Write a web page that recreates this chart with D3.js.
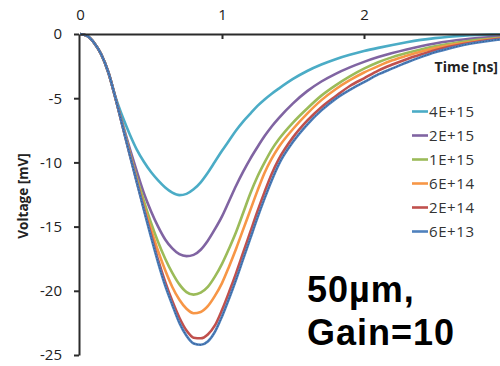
<!DOCTYPE html>
<html>
<head>
<meta charset="utf-8">
<script src="https://cdn.jsdelivr.net/npm/d3@7"></script>
<style>
  html, body { margin: 0; padding: 0; background: #fff; }
  svg { display: block; }
</style>
</head>
<body>
<svg id="chart" width="500" height="366"></svg>
<script>
// ---- data ----
const time = [0, 0.05, 0.1, 0.15, 0.2, 0.25, 0.3, 0.35, 0.4, 0.45, 0.5, 0.55, 0.6, 0.65, 0.7, 0.75, 0.8, 0.85, 0.9, 0.95, 1.0, 1.05, 1.1, 1.15, 1.2, 1.25, 1.3, 1.35, 1.4,
  1.5, 1.6, 1.7, 1.8, 1.9, 2.0, 2.1, 2.2, 2.3, 2.4, 2.5, 2.6, 2.7, 2.8, 2.9, 3.0];

const seriesNames = ["4E+15", "2E+15", "1E+15", "6E+14", "2E+14", "6E+13"];
const seriesColors = ["#4BACC6", "#8064A2", "#9BBB59", "#F79646", "#C0504D", "#4F81BD"];

const v4E15 = [0, -0.15, -0.7, -1.6, -3.0, -4.9, -6.45, -7.8, -9.0, -9.95, -10.75, -11.4, -11.95, -12.35, -12.55, -12.45, -12.1, -11.55, -10.8, -9.95, -9.1, -8.3, -7.5, -6.8, -6.2, -5.6, -5.1, -4.65, -4.25,
  -3.5, -2.88, -2.38, -1.96, -1.62, -1.33, -1.08, -0.85, -0.64, -0.46, -0.32, -0.21, -0.13, -0.08, -0.05, -0.03];
const v2E15 = [0, -0.15, -0.7, -1.6, -3.0, -5.0, -7.0, -8.9, -10.7, -12.4, -13.8, -15.0, -16.0, -16.7, -17.15, -17.3, -17.2, -16.8, -16.1, -15.2, -14.2, -13.0, -11.8, -10.7, -9.7, -8.8, -7.95, -7.2, -6.55,
  -5.4, -4.45, -3.7, -3.1, -2.6, -2.17, -1.8, -1.48, -1.2, -0.95, -0.74, -0.57, -0.43, -0.32, -0.23, -0.16];
const v1E15 = [0, -0.15, -0.7, -1.6, -3.0, -5.0, -7.1, -9.2, -11.2, -13.0, -14.7, -16.2, -17.5, -18.6, -19.5, -20.1, -20.3, -20.15, -19.7, -18.9, -17.9, -16.7, -15.4, -13.9, -12.4, -11.1, -10.0, -9.0, -8.2,
  -6.9, -5.8, -4.8, -4.0, -3.3, -2.7, -2.2, -1.8, -1.48, -1.2, -0.96, -0.76, -0.6, -0.46, -0.35, -0.26];
const v6E14 = [0, -0.15, -0.7, -1.6, -3.0, -5.0, -7.15, -9.3, -11.4, -13.4, -15.2, -16.9, -18.4, -19.7, -20.7, -21.4, -21.75, -21.65, -21.2, -20.4, -19.4, -18.1, -16.7, -15.2, -13.7, -12.2, -10.8, -9.7, -8.8,
  -7.4, -6.2, -5.15, -4.3, -3.6, -3.0, -2.5, -2.05, -1.7, -1.38, -1.1, -0.88, -0.7, -0.54, -0.41, -0.31];
const v2E14 = [0, -0.15, -0.7, -1.6, -3.0, -5.0, -7.2, -9.35, -11.5, -13.6, -15.6, -17.6, -19.3, -20.8, -22.1, -23.1, -23.65, -23.7, -23.4, -22.7, -21.5, -20.1, -18.6, -17.0, -15.4, -13.8, -12.3, -10.9, -9.75,
  -8.05, -6.75, -5.7, -4.85, -4.05, -3.45, -2.85, -2.38, -1.96, -1.6, -1.27, -1.0, -0.78, -0.6, -0.45, -0.34];
const v6E13 = [0, -0.15, -0.7, -1.6, -3.0, -5.0, -7.2, -9.4, -11.55, -13.7, -15.8, -17.8, -19.6, -21.1, -22.5, -23.5, -24.1, -24.2, -23.95, -23.2, -22.0, -20.6, -19.1, -17.5, -15.9, -14.3, -12.8, -11.4, -10.15,
  -8.4, -7.05, -5.95, -5.05, -4.35, -3.75, -3.15, -2.68, -2.22, -1.8, -1.42, -1.12, -0.86, -0.66, -0.5, -0.38];

const seriesValues = [v4E15, v2E15, v1E15, v6E14, v2E14, v6E13];

const xTicks = [0, 1, 2];
const yTicks = [0, -5, -10, -15, -20, -25];

// ---- chart ----
const svg = d3.select("#chart");
const font = "'Open Sans', 'Liberation Sans', Arial, sans-serif";

const x = d3.scaleLinear().domain([0, 3]).range([80, 506]);
const y = d3.scaleLinear().domain([0, -25]).range([34, 355]);

const line = d3.line()
  .x((d, i) => x(time[i]))
  .y(d => y(d))
  .curve(d3.curveMonotoneX);

// curves (first legend entry drawn first, last on top)
const plot = svg.append("g");
seriesValues.forEach((vals, k) => {
  plot.append("path")
    .attr("d", line(vals))
    .attr("fill", "none")
    .attr("stroke", seriesColors[k])
    .attr("stroke-width", 2.6)
    .attr("stroke-linejoin", "round");
});
// darker dotted core on the 6E+13 line
plot.append("path")
  .attr("d", line(v6E13))
  .attr("fill", "none")
  .attr("stroke", "#24406b")
  .attr("stroke-width", 1)
  .attr("stroke-dasharray", "1.5,1.5")
  .attr("opacity", 0.55);

// x axis (top)
const xAxis = svg.append("g")
  .attr("transform", `translate(0,${y(0)})`)
  .call(d3.axisTop(x).tickValues(xTicks).tickSizeInner(-5).tickSizeOuter(0).tickPadding(14).tickFormat(d3.format("d")));
xAxis.select(".domain").attr("stroke", "#2b2b2b").attr("stroke-width", 2);
xAxis.selectAll(".tick line").attr("stroke", "#2b2b2b").attr("stroke-width", 2);
xAxis.selectAll(".tick text").attr("font-family", font).attr("font-size", 15).attr("fill", "#222");
xAxis.selectAll(".tick").filter(d => d === 0).select("line").remove();

// y axis
const yAxis = svg.append("g")
  .attr("transform", `translate(${x(0) - 1},0)`)
  .call(d3.axisLeft(y).tickValues(yTicks).tickSizeInner(5).tickSizeOuter(0).tickPadding(12).tickFormat(d3.format("d")));
yAxis.select(".domain").attr("stroke", "#2b2b2b").attr("stroke-width", 2);
yAxis.selectAll(".tick line").attr("stroke", "#2b2b2b").attr("stroke-width", 2);
yAxis.selectAll(".tick text").attr("font-family", font).attr("font-size", 15).attr("fill", "#222")
  .text(d => d === 0 ? "0" : "-" + Math.abs(d));

// axis titles
svg.append("text")
  .attr("transform", "translate(28,196) rotate(-90)")
  .attr("text-anchor", "middle")
  .attr("font-family", font)
  .attr("font-weight", "bold")
  .attr("font-size", 13.5)
  .attr("fill", "#222")
  .text("Voltage [mV]");

svg.append("text")
  .attr("x", 498)
  .attr("y", 72)
  .attr("text-anchor", "end")
  .attr("font-family", font)
  .attr("font-weight", "bold")
  .attr("font-size", 14)
  .attr("fill", "#222")
  .text("Time [ns]");

// legend
const legend = svg.append("g");
seriesNames.forEach((name, k) => {
  const ly = 111.5 + k * 24;
  legend.append("line")
    .attr("x1", 412).attr("x2", 428)
    .attr("y1", ly).attr("y2", ly)
    .attr("stroke", seriesColors[k]).attr("stroke-width", 2.6);
  legend.append("text")
    .attr("x", 429).attr("y", ly)
    .attr("dy", "0.36em")
    .attr("font-family", font)
    .attr("font-size", 15)
    .attr("letter-spacing", 0.6)
    .attr("fill", "#333")
    .text(name);
});

// annotation
const ann = svg.append("text")
  .attr("font-family", "'Liberation Sans', Arial, sans-serif")
  .attr("font-weight", "bold")
  .attr("font-size", 36)
  .attr("letter-spacing", 1)
  .attr("fill", "#000");
ann.append("tspan").attr("x", 307).attr("y", 302).text("50µm,");
ann.append("tspan").attr("x", 307).attr("y", 345).text("Gain=10");
</script>
</body>
</html>
